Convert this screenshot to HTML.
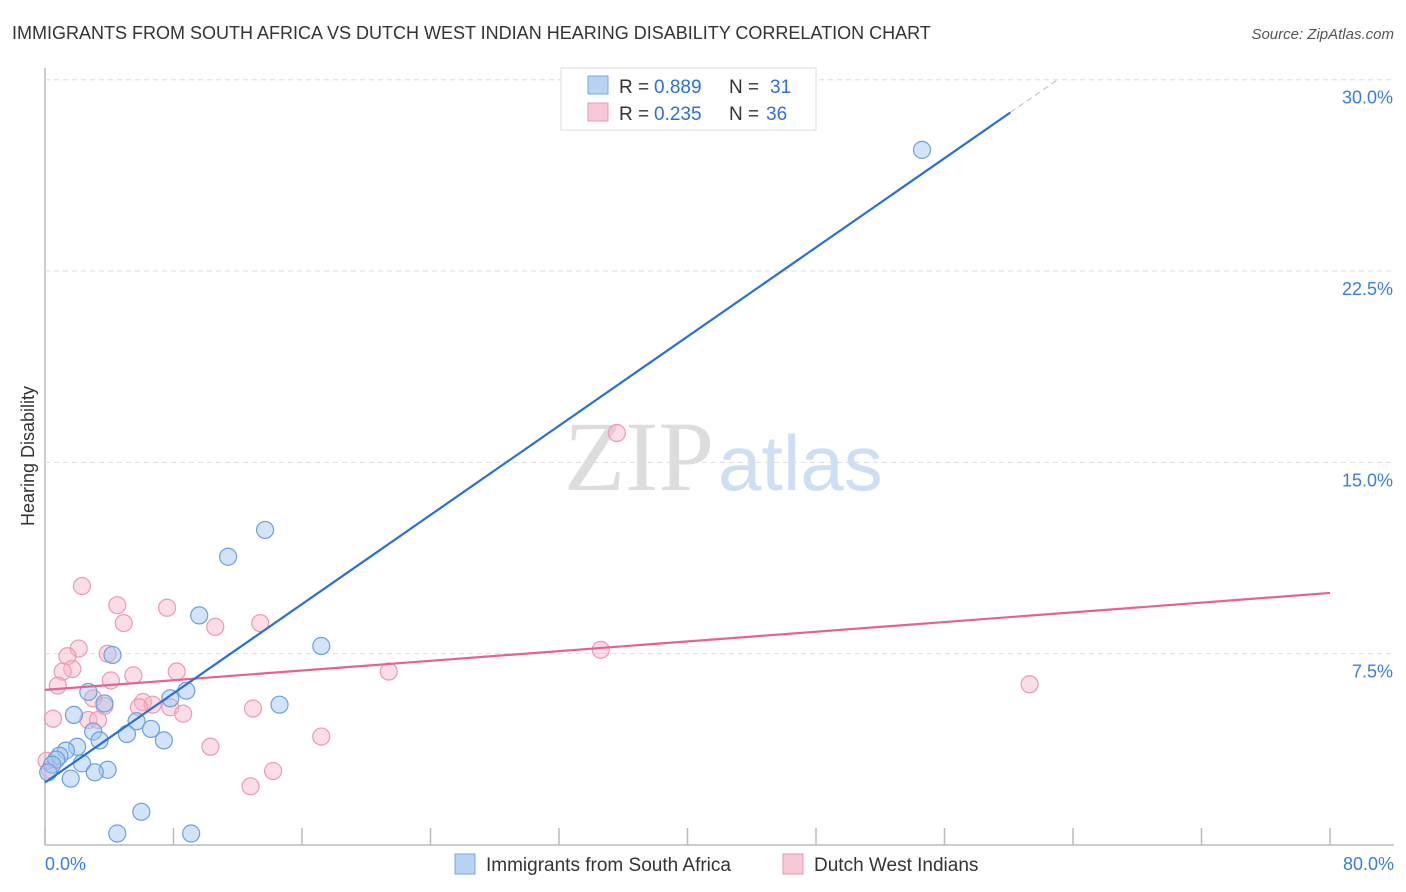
<!DOCTYPE html>
<html><head><meta charset="utf-8"><style>
body{margin:0;background:#fff;font-family:"Liberation Sans",sans-serif;}
#wrap{position:relative;width:1406px;height:892px;overflow:hidden;}
</style></head><body>
<div id="wrap">
<svg id="svg" width="1406" height="892" xmlns="http://www.w3.org/2000/svg">
<text x="12" y="39" font-size="18" fill="#333">IMMIGRANTS FROM SOUTH AFRICA VS DUTCH WEST INDIAN HEARING DISABILITY CORRELATION CHART</text>
<text x="1394" y="39" font-size="15" fill="#555" font-style="italic" text-anchor="end">Source: ZipAtlas.com</text>
<text x="34" y="456" font-size="18" fill="#333" text-anchor="middle" transform="rotate(-90 34 456)">Hearing Disability</text>
<text x="714" y="490" font-size="100" fill="#ddd" text-anchor="end" font-family="Liberation Serif,serif">ZIP</text>
<text x="718" y="490" font-size="78" fill="#cfdff3">atlas</text>
<g id="grid"></g><g id="marks"></g>
<g>
<rect x="561" y="68" width="255" height="62" fill="#fff" stroke="#ddd"/>
<rect x="588" y="76" width="20" height="18" fill="#b9d3f5" stroke="#7aa6e0"/>
<text x="619" y="93" font-size="19" fill="#333">R =</text>
<text x="654" y="93" font-size="19" fill="#2f6fd6">0.889</text>
<text x="729" y="93" font-size="19" fill="#333">N =</text>
<text x="770" y="93" font-size="19" fill="#2f6fd6">31</text>
<rect x="588" y="103" width="20" height="18" fill="#f8c8d6" stroke="#e89ab2"/>
<text x="619" y="120" font-size="19" fill="#333">R =</text>
<text x="654" y="120" font-size="19" fill="#2f6fd6">0.235</text>
<text x="729" y="120" font-size="19" fill="#333">N =</text>
<text x="766" y="120" font-size="19" fill="#2f6fd6">36</text>
</g>
<g>
<rect x="455" y="854" width="20" height="20" fill="#b9d3f5" stroke="#7aa6e0"/>
<text x="486" y="871" font-size="19" fill="#333">Immigrants from South Africa</text>
<rect x="783" y="854" width="20" height="20" fill="#f8c8d6" stroke="#e89ab2"/>
<text x="814" y="871" font-size="19" fill="#333">Dutch West Indians</text>
</g>
</svg>
</div>
<script>
const yTicks=[7.5,15,22.5,30];
const blueX=[54.6,13.7,11.4,17.2,9.6,4.2,8.8,7.8,2.7,14.6,3.7,1.8,5.7,6.6,3.0,5.1,7.4,3.4,2.0,1.3,0.9,2.3,0.7,3.9,3.1,1.6,0.45,0.2,6.0,4.5,9.1];
const blueY=[27.25,12.35,11.3,7.8,9.0,7.45,6.05,5.75,6.0,5.5,5.55,5.1,4.85,4.55,4.45,4.35,4.1,4.1,3.85,3.7,3.5,3.2,3.35,2.95,2.85,2.6,3.15,2.85,1.3,0.45,0.45];
const pinkX=[35.6,2.3,4.5,7.6,4.9,13.4,10.6,2.1,3.9,34.6,1.4,1.7,1.1,8.2,5.5,21.4,4.1,0.8,61.3,3.0,6.1,6.7,3.7,7.8,5.85,12.95,8.6,0.5,2.7,3.3,17.2,10.3,14.2,12.8,0.3,0.1];
const pinkY=[16.15,10.15,9.4,9.3,8.7,8.7,8.55,7.7,7.5,7.65,7.4,6.9,6.8,6.8,6.65,6.8,6.45,6.25,6.3,5.75,5.6,5.5,5.45,5.4,5.4,5.35,5.15,4.95,4.9,4.9,4.25,3.85,2.9,2.3,2.95,3.3];
const blueLine=[2.45,0.437];
const pinkLine=[6.08,0.0475];
const sx=v=>45+v*16.0625, sy=v=>845-v*25.51;
const NS="http://www.w3.org/2000/svg";
const svg=document.getElementById('svg'),grid=document.getElementById('grid'),marks=document.getElementById('marks');
function mk(p,tag,a){const e=document.createElementNS(NS,tag);for(const k in a)e.setAttribute(k,a[k]);p.appendChild(e);return e;}
let ax=mk(grid,'line',{x1:45,y1:68,x2:45,y2:845,stroke:'#bbb','stroke-width':1.5});


let bx=mk(grid,'line',{x1:45,y1:845,x2:1394,y2:845,stroke:'#bbb','stroke-width':1.5});


yTicks.forEach(t=>{
 const g=mk(grid,'line',{x1:45,y1:sy(t),x2:1394,y2:sy(t),stroke:'#ddd','stroke-dasharray':'5,4'});
 
 
 const l=mk(grid,'text',{x:1393,y:sy(t)+24,'font-size':18,fill:'#3b7ddd','text-anchor':'end'});
 l.textContent=t.toFixed(1)+'%';
 
 
});
for(let i=0;i<=10;i++){
 const t=mk(grid,'line',{x1:sx(i*8),y1:828,x2:sx(i*8),y2:845,stroke:'#bbb','stroke-width':1.5});
 
 
}
[[0,'0.0%','start',45],[80,'80.0%','end',1394]].forEach(d=>{
 const l=mk(grid,'text',{x:d[3],y:870,'font-size':18,fill:'#3b7ddd','text-anchor':d[2]});
 l.textContent=d[1];
 
 
});
pinkX.forEach((x,i)=>{
 const c=mk(marks,'circle',{cx:sx(x),cy:sy(pinkY[i]),r:8.5,fill:'rgba(246,180,200,0.45)',stroke:'#eb9ab4','stroke-width':1.2});
 
 
});
blueX.forEach((x,i)=>{
 const c=mk(marks,'circle',{cx:sx(x),cy:sy(blueY[i]),r:8.5,fill:'rgba(160,195,240,0.45)',stroke:'#6b9fe0','stroke-width':1.2});
 
 
});
let pl=mk(marks,'line',{x1:sx(0),y1:sy(pinkLine[0]),x2:sx(80),y2:sy(pinkLine[0]+pinkLine[1]*80),stroke:'#e8628f','stroke-width':2.2});


const xe=60.1;
let bl=mk(marks,'line',{x1:sx(0),y1:sy(blueLine[0]),x2:sx(xe),y2:sy(blueLine[0]+blueLine[1]*xe),stroke:'#2a6fd6','stroke-width':2.2});


const xm=(30-blueLine[0])/blueLine[1];
let bd=mk(marks,'line',{x1:sx(xe),y1:sy(blueLine[0]+blueLine[1]*xe),x2:sx(xm),y2:sy(30),stroke:'#bbb','stroke-width':1,'stroke-dasharray':'6,4'});


</script>
</body></html>
